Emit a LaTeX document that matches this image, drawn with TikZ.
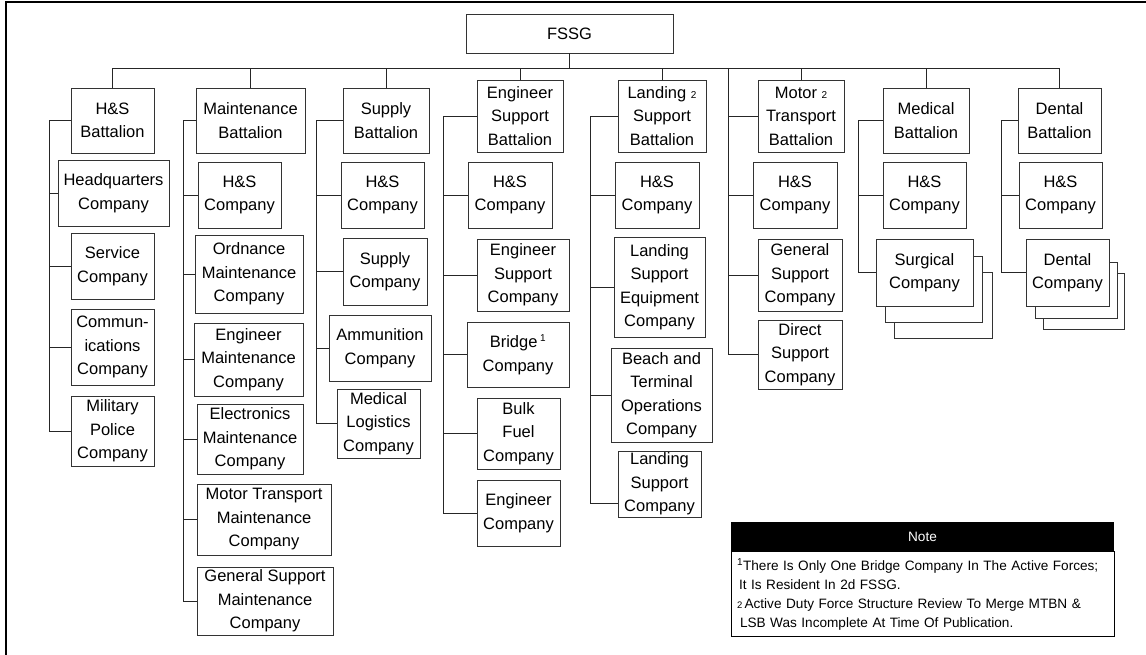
\documentclass[tikz,border=0pt]{standalone}
\usepackage{fontspec}
\setmainfont{Liberation Sans}
\tikzset{
  bx/.style={draw=black!80, line width=0.9pt, fill=white, inner sep=0pt, align=center,
             font=\fontsize{16.5}{23.5}\selectfont},
  ln/.style={draw=black!85, line width=0.9pt},
}
\newcommand\bx[6]{\node[bx,minimum width={(#4)-(#2)},minimum height={(#5)-(#3)}] (#1) at ({((#2)+(#4))/2},{((#3)+(#5))/2}) {#6};}
\newcommand\smtwo{{\fontsize{10}{10}\selectfont 2}}
\newcommand\supone{\textsuperscript{\fontsize{10}{10}\selectfont 1}}
\begin{document}
\begin{tikzpicture}[x=1pt,y=-1pt]
\useasboundingbox (0,0) rectangle (1146,655);
\draw[line width=2pt] (5.5,655) -- (5.5,2.5) -- (1146,2.5);

% top
\bx{fssg}{466}{14}{673}{53}{FSSG}
% column 1
\bx{hsb}{71}{88}{154}{153}{H\&S\\Battalion}
\bx{hq}{58}{160}{169}{226}{Headquarters\\Company}
\bx{svc}{71}{233}{154}{299}{Service\\Company}
\bx{com}{71}{309}{154}{385}{Commun-\\ications\\Company}
\bx{mp}{71}{396}{154}{466}{Military\\Police\\Company}
% column 2
\bx{mb}{196}{88}{305}{153}{Maintenance\\Battalion}
\bx{mhs}{198}{162}{281}{228}{H\&S\\Company}
\bx{ord}{195}{235}{303}{313}{Ordnance\\Maintenance\\Company}
\bx{emc}{194}{323}{303}{396}{Engineer\\Maintenance\\Company}
\bx{elc}{197}{404}{303}{474}{Electronics\\Maintenance\\Company}
\bx{mtm}{197}{484}{331}{555}{Motor Transport\\Maintenance\\Company}
\bx{gsm}{197}{567}{333}{635}{General Support\\Maintenance\\Company}
% column 3
\bx{sb}{343}{88}{429}{153}{Supply\\Battalion}
\bx{shs}{341}{162}{424}{228}{H\&S\\Company}
\bx{sup}{343}{238}{427}{305}{Supply\\Company}
\bx{amm}{329}{315}{431}{381}{Ammunition\\Company}
\bx{mlc}{337}{389}{420}{458}{Medical\\Logistics\\Company}
% column 4
\bx{esb}{477}{80}{563}{152}{Engineer\\Support\\Battalion}
\bx{ehs}{468}{162}{552}{228}{H\&S\\Company}
\bx{esc}{477}{239}{569}{311}{Engineer\\Support\\Company}
\bx{brc}{467}{322}{569}{387}{Bridge\,\supone\\Company}
\bx{bfc}{477}{398}{560}{469}{Bulk\\Fuel\\Company}
\bx{enc}{477}{480}{560}{546}{Engineer\\Company}
% column 5
\bx{lsb}{618}{80}{706}{152}{Landing \smtwo\\Support\\Battalion}
\bx{lhs}{615}{162}{699}{228}{H\&S\\Company}
\bx{lse}{614}{237}{705}{337}{Landing\\Support\\Equipment\\Company}
\bx{bto}{611}{348}{712}{442}{Beach and\\Terminal\\Operations\\Company}
\bx{lsc}{618}{451}{701}{517}{Landing\\Support\\Company}
% column 6
\bx{mtb}{758}{80}{844}{152}{Motor \smtwo\\Transport\\Battalion}
\bx{ths}{753}{162}{837}{228}{H\&S\\Company}
\bx{gsc}{758}{239}{842}{311}{General\\Support\\Company}
\bx{dsc}{758}{320}{842}{389}{Direct\\Support\\Company}
% column 7
\bx{medb}{883}{88}{969}{153}{Medical\\Battalion}
\bx{mdhs}{883}{162}{966}{228}{H\&S\\Company}
\bx{surg3}{894}{272}{992}{338}{}
\bx{surg2}{885}{256}{982}{322}{}
\bx{surg}{876}{239}{973}{306}{Surgical\\Company}
% column 8
\bx{dtb}{1018}{88}{1101}{153}{Dental\\Battalion}
\bx{dths}{1019}{162}{1102}{228}{H\&S\\Company}
\bx{dent3}{1043}{273}{1124}{329}{}
\bx{dent2}{1035}{262}{1117}{318}{}
\bx{dent}{1026}{239}{1109}{306}{Dental\\Company}

% bus
\coordinate (bus) at (0,68);
\draw[ln] (fssg.south) -- (fssg.south |- bus);
\draw[ln] (hsb.north) -- (hsb.north |- bus) -- (dtb.north |- bus) -- (dtb.north);
\foreach \b in {mb,sb,esb,lsb,mtb,medb}
  \draw[ln] (\b.north) -- (\b.north |- bus);

% trunks
\coordinate (t1) at (49,0);
\draw[ln] (hsb.west) -- (hsb.west -| t1) -- (mp.west -| t1) -- (mp.west);
\foreach \c in {hq,svc,com} \draw[ln] (\c.west) -- (\c.west -| t1);

\coordinate (t2) at (183,0);
\draw[ln] (mb.west) -- (mb.west -| t2) -- (gsm.west -| t2) -- (gsm.west);
\foreach \c in {mhs,ord,emc,elc,mtm} \draw[ln] (\c.west) -- (\c.west -| t2);

\coordinate (t3) at (316,0);
\draw[ln] (sb.west) -- (sb.west -| t3) -- (mlc.west -| t3) -- (mlc.west);
\foreach \c in {shs,sup,amm} \draw[ln] (\c.west) -- (\c.west -| t3);

\coordinate (t4) at (443,0);
\draw[ln] (esb.west) -- (esb.west -| t4) -- (enc.west -| t4) -- (enc.west);
\foreach \c in {ehs,esc,brc,bfc} \draw[ln] (\c.west) -- (\c.west -| t4);

\coordinate (t5) at (590,0);
\coordinate (lscb) at ([yshift=-19pt]lsc.west);
\draw[ln] (lsb.west) -- (lsb.west -| t5) -- (lscb -| t5) -- (lscb);
\foreach \c in {lhs,lse,bto} \draw[ln] (\c.west) -- (\c.west -| t5);

\coordinate (t6) at (728,68);
\draw[ln] (t6) -- (dsc.west -| t6) -- (dsc.west);
\foreach \c in {mtb,ths,gsc} \draw[ln] (\c.west) -- (\c.west -| t6);

\coordinate (t7) at (858,0);
\draw[ln] (medb.west) -- (medb.west -| t7) -- (surg.west -| t7) -- (surg.west);
\draw[ln] (mdhs.west) -- (mdhs.west -| t7);

\coordinate (t8) at (1001,0);
\draw[ln] (dtb.west) -- (dtb.west -| t8) -- (dent.west -| t8) -- (dent.west);
\draw[ln] (dths.west) -- (dths.west -| t8);

% note
\node[fill=black, text=white, inner sep=0pt, minimum width=383, minimum height=29,
      font=\fontsize{13.6}{16}\selectfont] (nh) at (922.5,536.5) {Note};
\node[draw=black, line width=0.9pt, anchor=north, minimum width=383, minimum height=85,
      inner xsep=6pt, inner ysep=0pt, text width=371pt, align=left,
      font=\fontsize{13.6}{19}\selectfont] (nb) at (nh.south)
  {\supone There Is Only One Bridge Company In The Active Forces;\\
   \hspace{2pt}It Is Resident In 2d FSSG.\\
   {\fontsize{9.5}{9.5}\selectfont 2}\,Active Duty Force Structure Review To Merge MTBN \&\\
   \hspace{3pt}LSB Was Incomplete At Time Of Publication.};
\end{tikzpicture}
\end{document}
